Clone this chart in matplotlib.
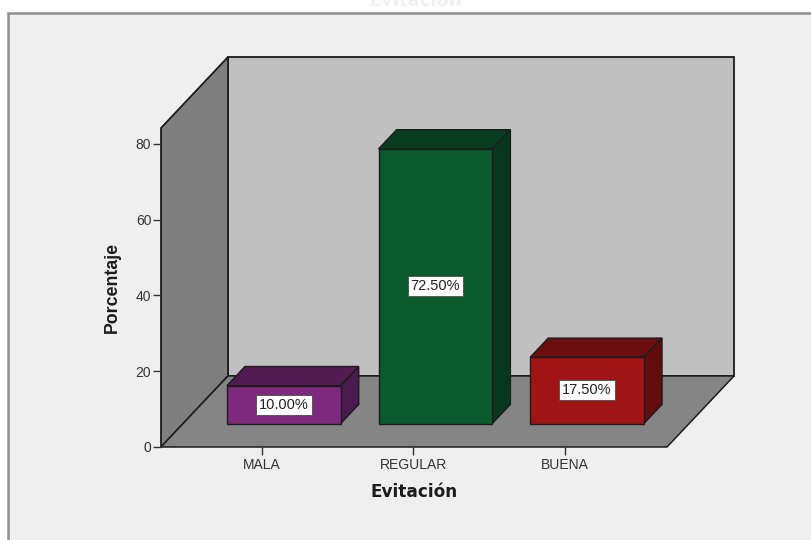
import matplotlib
matplotlib.use('Agg')
import matplotlib.pyplot as plt
from matplotlib.patches import Polygon, Rectangle

categories = ['MALA', 'REGULAR', 'BUENA']
percentages = [10.0, 72.5, 17.5]
y_ticks = [0, 20, 40, 60, 80]

front_colors = ['#7D2A7E', '#0B5A2E', '#A01416']
top_colors = ['#521C52', '#083D20', '#6A0E0E']
side_colors = ['#4A1A4E', '#07381D', '#620C0E']

X_MIN, X_MAX = -0.664, 2.673
Y_MAX = 84.2
DEPTH_X = 0.442   # shift of the back plane, in category units
DEPTH_Y = 18.75   # shift of the back plane, in percent units
BAR_WIDTH = 0.75
BAR_FRONT = 0.33
BAR_BACK = 0.60


def project(x, y, depth):
    return (x + depth * DEPTH_X, y + depth * DEPTH_Y)


def add_face(ax, corners, color, z, lw=1.0):
    points = [project(*c) for c in corners]
    ax.add_patch(Polygon(points, closed=True, facecolor=color, edgecolor='#1c1c1c',
                         linewidth=lw, joinstyle='miter', clip_on=False, zorder=z))


def draw_walls(ax):
    add_face(ax, [(X_MIN, 0, 1), (X_MAX, 0, 1), (X_MAX, Y_MAX, 1), (X_MIN, Y_MAX, 1)], '#C0C0C0', 1, 1.3)
    add_face(ax, [(X_MIN, 0, 0), (X_MIN, 0, 1), (X_MIN, Y_MAX, 1), (X_MIN, Y_MAX, 0)], '#7F7F7F', 1.1, 1.3)
    add_face(ax, [(X_MIN, 0, 0), (X_MAX, 0, 0), (X_MAX, 0, 1), (X_MIN, 0, 1)], '#858585', 1.2, 1.1)


def draw_bars(ax):
    half = BAR_WIDTH / 2
    for i, value in enumerate(percentages):
        left, right = i - half, i + half
        z = 2 + i
        add_face(ax, [(left, value, BAR_FRONT), (right, value, BAR_FRONT),
                      (right, value, BAR_BACK), (left, value, BAR_BACK)], top_colors[i], z)
        add_face(ax, [(right, 0, BAR_FRONT), (right, 0, BAR_BACK),
                      (right, value, BAR_BACK), (right, value, BAR_FRONT)], side_colors[i], z)
        x0, y0 = project(i, 0, BAR_FRONT)
        ax.bar(x0, value, bottom=y0, width=BAR_WIDTH, color=front_colors[i],
               edgecolor='#1c1c1c', linewidth=1.0, zorder=z + 0.1)
        ax.text(x0, y0 + value / 2, f'{value:.2f}%', ha='center', va='center',
                fontsize=10.5, color='#222222', zorder=z + 0.2,
                bbox=dict(facecolor='white', edgecolor='#555555', linewidth=0.7,
                          boxstyle='square,pad=0.2'))


def main():
    plt.rcParams['font.family'] = ['Liberation Sans', 'DejaVu Sans']

    fig = plt.figure(figsize=(8.12, 5.4), dpi=100, facecolor='white')

    # background panel runs off the right and bottom edges
    fig.add_artist(Rectangle((8 / 812, -0.02), 1.0, (540 - 13) / 540 + 0.02,
                             transform=fig.transFigure, facecolor='#EFEFEF',
                             edgecolor='#8f8f8f', linewidth=1.8, zorder=-1))
    # title sits above the panel, almost cut away by the top edge
    fig.text(416 / 812, 1 - 6 / 540, 'Evitación', ha='center', va='baseline', fontsize=13,
             fontweight='bold', color='#F0F0F0', family='DejaVu Sans')

    ax = fig.add_axes([161 / 812, (540 - 447) / 540, (667 - 161) / 812, (447 - 128) / 540])
    ax.set_xlim(X_MIN, X_MAX)
    ax.set_ylim(0, Y_MAX)
    ax.patch.set_visible(False)
    for spine in ax.spines.values():
        spine.set_visible(False)

    draw_walls(ax)
    draw_bars(ax)

    ax.set_xticks(range(len(categories)))
    ax.set_xticklabels(categories)
    ax.set_yticks(y_ticks)
    ax.tick_params(axis='both', length=6, width=1.0, color='#333333', labelsize=10,
                   labelcolor='#333333')
    ax.tick_params(axis='x', pad=2)
    ax.tick_params(axis='y', pad=1)
    ax.set_xlabel('Evitación', fontsize=12.2, fontweight='bold', family='DejaVu Sans',
                  color='#1c1c1c', labelpad=8)
    ax.set_ylabel('Porcentaje', fontsize=12.8, fontweight='bold', color='#1c1c1c')
    ax.yaxis.set_label_coords((121 - 161) / (667 - 161), (447 - 287) / (447 - 128))

    fig.savefig('out.png', dpi=100)


if __name__ == '__main__':
    main()
